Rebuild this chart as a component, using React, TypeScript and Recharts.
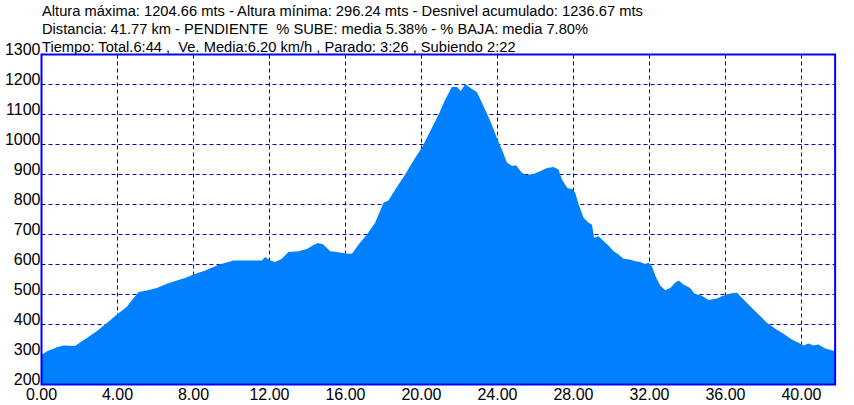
import {
  Area,
  AreaChart,
  CartesianGrid,
  ReferenceArea,
  XAxis,
  YAxis,
} from "recharts";

const FILL = "#0080FF";
const GRID = "#0000CC";
const BORDER = "#0000FF";
const FONT = "'Liberation Sans', Arial, sans-serif";

// perfil: distancia (km) y altura (m)
const distKm = [
  0, 0.29, 0.63, 0.81, 1.16, 1.77, 2.04, 2.39, 2.92, 3.44, 3.97, 4.49, 4.93, 5.11, 5.55, 6.07,
  6.6, 7.21, 7.56, 8.0, 8.62, 9.32, 10.11, 11.6, 11.77, 12.04, 12.3, 12.65, 13.0, 13.53,
  13.97, 14.32, 14.55, 14.84, 15.19, 15.55, 16.07, 16.34, 16.69, 17.13, 17.56, 18.0, 18.26,
  18.62, 19.14, 19.67, 20.02, 20.46, 20.94, 21.25, 21.6, 21.86, 22.07, 22.3, 22.56, 22.92,
  23.26, 23.62, 23.97, 24.23, 24.49, 24.76, 24.98, 25.28, 25.55, 25.9, 26.25, 26.6, 26.95,
  27.21, 27.39, 27.69, 27.94, 28.09, 28.27, 28.53, 28.79, 28.97, 29.09, 29.32, 29.58, 29.84,
  30.11, 30.37, 30.63, 30.95, 31.25, 31.51, 31.77, 31.95, 32.13, 32.3, 32.56, 32.83, 33.09,
  33.35, 33.53, 33.79, 34.14, 34.41, 34.67, 34.93, 35.11, 35.55, 35.81, 36.25, 36.6, 36.86,
  37.3, 37.74, 38.18, 38.62, 39.05, 39.49, 39.84, 40.11, 40.37, 40.63, 40.89, 41.25, 41.77,
];

const alturaM = [
  298, 311, 319, 324, 330, 328, 341, 355, 378, 405, 433, 459, 494, 508, 513, 522,
  536, 548, 555, 567, 580, 599, 613, 613, 625, 613, 608, 619, 642, 644,
  652, 665, 672, 667, 644, 642, 636, 636, 667, 700, 739, 806, 813,
  850, 900, 956, 989, 1044, 1105, 1150, 1192, 1192, 1178, 1202, 1189, 1174,
  1128, 1078, 1022, 983, 941, 928, 931, 906, 898, 902, 911, 922, 925,
  917, 883, 854, 852, 839, 800, 756, 739, 733, 689, 694, 678, 663,
  644, 633, 619, 617, 611, 608, 602, 606, 594, 563, 530, 514, 522,
  539, 547, 533, 522, 500, 498, 489, 482, 487, 494, 503, 506, 489,
  461, 433, 406, 386, 369, 350, 339, 330, 337, 330, 333, 320, 311,
];

const xTicks = [0, 4, 8, 12, 16, 20, 24, 28, 32, 36, 40];
const yTicks = [200, 300, 400, 500, 600, 700, 800, 900, 1000, 1100, 1200, 1300];
const X_MAX = 41.77;

const headerLines = [
  "Altura máxima: 1204.66 mts - Altura mínima: 296.24 mts - Desnivel acumulado: 1236.67 mts",
  "Distancia: 41.77 km - PENDIENTE  % SUBE: media 5.38% - % BAJA: media 7.80%",
  "Tiempo: Total.6:44 ,  Ve. Media:6.20 km/h , Parado: 3:26 , Subiendo 2:22",
];

const data = distKm.map((d, i) => ({ km: d, alt: alturaM[i] }));

function XTick({ x, y, payload }: any) {
  return (
    <text x={x} y={y + 13} textAnchor="middle" fill="#000" fontSize={16} fontFamily={FONT}>
      {Number(payload.value).toFixed(2)}
    </text>
  );
}

function YTick({ x, y, payload }: any) {
  return (
    <text x={x} y={y + 0.5} textAnchor="end" fill="#000" fontSize={16} fontFamily={FONT}>
      {payload.value}
    </text>
  );
}

export default function App() {
  return (
    <div style={{ position: "absolute", left: 0, top: 0, width: 854, height: 405, background: "#fff" }}>
      <AreaChart
        width={854}
        height={405}
        data={data}
        margin={{ top: 54.5, right: 18.87, left: 0, bottom: 0 }}
      >
        <XAxis
          dataKey="km"
          type="number"
          domain={[0, X_MAX]}
          ticks={xTicks}
          tick={<XTick />}
          tickLine={false}
          tickSize={0}
          axisLine={false}
          height={20.5}
          interval={0}
        />
        <YAxis
          type="number"
          domain={[200, 1300]}
          ticks={yTicks}
          tick={<YTick />}
          tickLine={false}
          tickSize={0}
          tickMargin={1}
          axisLine={false}
          width={41.5}
          interval={0}
        />
        <Area
          type="linear"
          dataKey="alt"
          stroke="none"
          fill={FILL}
          fillOpacity={1}
          baseValue={200}
          isAnimationActive={false}
          dot={false}
          activeDot={false}
        />
        <CartesianGrid
          stroke={GRID}
          strokeDasharray="4 3"
          strokeWidth={1}
          verticalValues={xTicks}
          horizontalValues={yTicks}
        />
        <ReferenceArea
          x1={0}
          x2={X_MAX}
          y1={200}
          y2={1300}
          fill="none"
          stroke={BORDER}
          strokeWidth={2}
          fillOpacity={0}
        />
      </AreaChart>
      <div
        style={{
          position: "absolute",
          left: 42,
          top: 2,
          fontFamily: FONT,
          fontSize: 14.7,
          lineHeight: "18px",
          color: "#000",
          whiteSpace: "pre",
        }}
      >
        {headerLines.map((l) => (
          <div key={l}>{l}</div>
        ))}
      </div>
    </div>
  );
}
